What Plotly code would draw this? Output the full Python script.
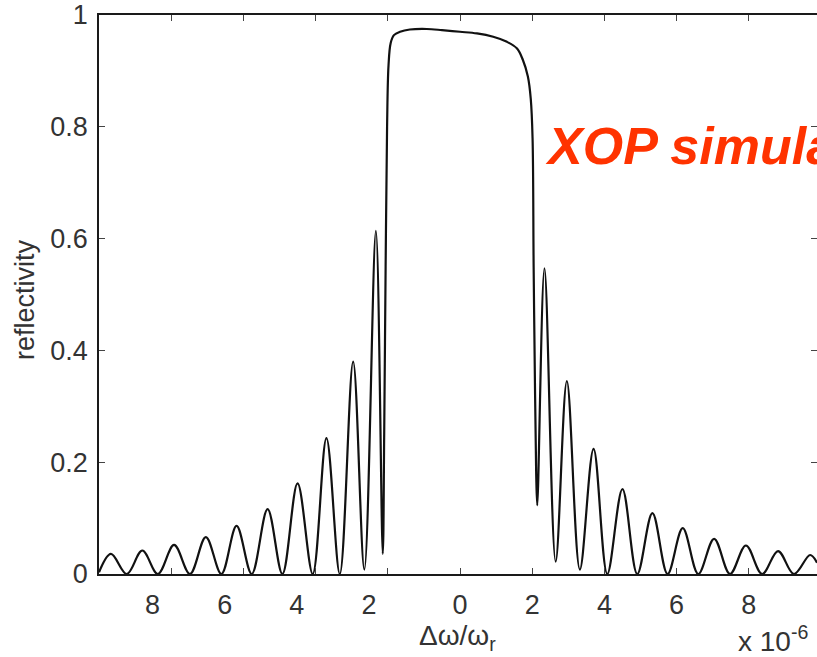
import plotly.graph_objects as go

# Data (x in units of 1e-6)
x_vals = [-10.0, -9.67, -9.23, -8.80, -8.37, -7.92, -7.48, -7.04, -6.61, -6.19,
          -5.77, -5.33, -4.92, -4.50, -4.08, -3.70, -3.33, -2.96, -2.65, -2.33,
          -2.14, -2.10, -2.06, -2.02, -1.98, -1.92, -1.83, -1.66, -1.39, -0.92,
          -0.50, 0.00, 0.47, 0.92, 1.30, 1.58, 1.74, 1.88, 1.96, 2.01,
          2.04, 2.08, 2.11, 2.14, 2.34, 2.65, 2.96, 3.32, 3.70, 4.08,
          4.50, 4.91, 5.33, 5.75, 6.17, 6.60, 7.04, 7.48, 7.92, 8.37,
          8.81, 9.25, 9.70, 9.89]
reflectivity = [0.003, 0.036, 0.0, 0.042, 0.0, 0.052, 0.0, 0.066, 0.0, 0.086,
                0.0, 0.116, 0.0, 0.162, 0.0, 0.243, 0.0, 0.380, 0.008, 0.614,
                0.036, 0.25, 0.55, 0.80, 0.91, 0.95, 0.964, 0.970, 0.974, 0.975,
                0.973, 0.970, 0.967, 0.961, 0.952, 0.940, 0.920, 0.890, 0.850, 0.78,
                0.55, 0.32, 0.18, 0.123, 0.547, 0.022, 0.345, 0.008, 0.224, 0.0,
                0.152, 0.0, 0.109, 0.0, 0.082, 0.0, 0.063, 0.0, 0.051, 0.0,
                0.041, 0.0, 0.034, 0.02]

x_tickvals = [-8, -6, -4, -2, 0, 2, 4, 6, 8]
x_ticktext = ["8" + "\u00a0" * 5, "6" + "\u00a0" * 5, "4" + "\u00a0" * 5, "2" + "\u00a0" * 5,
              "0", "2", "4", "6", "8"]
y_tickvals = [0, 0.2, 0.4, 0.6, 0.8, 1]
y_ticktext = ["0", "0.2", "0.4", "0.6", "0.8", "1"]

W, H = 817, 657
L, R, T, B = 99, 0, 15, 83
x0 = -10.0
x1 = x0 + (W - L - R) / 36.1

FAM = "Liberation Sans, Arial, sans-serif"
tick_font = dict(family=FAM, size=27, color="#333333")

fig = go.Figure()
fig.add_trace(go.Scatter(x=x_vals, y=reflectivity, mode="lines",
                         line=dict(color="#111111", width=2.2, shape="spline", smoothing=1.0),
                         showlegend=False, hoverinfo="skip"))
# invisible trace to activate right-side y ticks
fig.add_trace(go.Scatter(x=[x0], y=[0], yaxis="y2", mode="markers",
                         marker=dict(opacity=0), showlegend=False, hoverinfo="skip"))

fig.update_layout(
    width=W, height=H,
    margin=dict(l=L, r=R, t=T, b=B),
    paper_bgcolor="white", plot_bgcolor="white",
    xaxis=dict(range=[x0, x1], tickvals=x_tickvals, ticktext=x_ticktext,
               ticks="inside", ticklen=6, tickcolor="#444444", tickwidth=1,
               showline=True, linecolor="#1a1a1a", linewidth=1.6, mirror="ticks",
               showgrid=False, zeroline=False, tickfont=tick_font,
               ticklabelstandoff=6),
    yaxis=dict(range=[0, 1], tickvals=y_tickvals, ticktext=y_ticktext,
               ticks="inside", ticklen=6, tickcolor="#444444", tickwidth=1,
               showline=True, linecolor="#1a1a1a", linewidth=1.8,
               showgrid=False, zeroline=False, tickfont=tick_font,
               ticklabelstandoff=4),
    yaxis2=dict(range=[0, 1], overlaying="y", side="right", anchor="x",
                tickvals=y_tickvals, ticks="inside", ticklen=6, tickcolor="#444444",
                showticklabels=False, showline=False, showgrid=False, zeroline=False),
)

fig.add_annotation(text="reflectivity", xref="paper", yref="paper",
                   x=-(L - 25) / (W - L - R), y=(574 - 300) / 559, textangle=-90,
                   showarrow=False, xanchor="center", yanchor="middle",
                   font=dict(family=FAM, size=27, color="#333333"))
fig.add_annotation(text="Δω/ω<sub>r</sub>", xref="paper", yref="paper",
                   x=(457 - L) / (W - L - R), y=-(637 - 574) / 559,
                   showarrow=False, xanchor="center", yanchor="middle",
                   font=dict(family=FAM, size=28, color="#333333"))
fig.add_annotation(text="x 10<sup>-6</sup>", xref="paper", yref="paper",
                   x=(736 - L) / (W - L - R), y=-(639 - 574) / 559,
                   showarrow=False, xanchor="left", yanchor="middle",
                   font=dict(family=FAM, size=28, color="#333333"))
fig.add_annotation(text="<b><i>XOP simulation</i></b>", xref="paper", yref="paper",
                   x=(543 - L) / (W - L - R), y=(574 - 146) / 559,
                   showarrow=False, xanchor="left", yanchor="middle",
                   font=dict(family=FAM, size=52, color="#ff3300"))

fig.write_html("out.html")
